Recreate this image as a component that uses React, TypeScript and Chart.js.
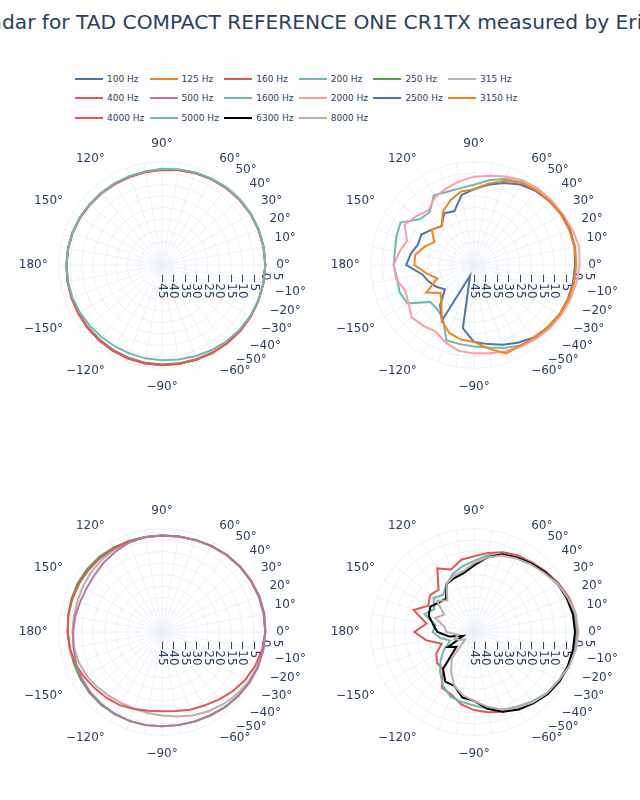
import React, { useEffect, useRef } from 'react';
import { Chart, registerables } from 'chart.js';

Chart.register(...registerables);

// Angles in degrees, counter-clockwise from 0 (front)
const ANGLES = [0, 10, 20, 30, 40, 50, 60, 70, 80, 90, 100, 110, 120, 130, 140, 150, 160, 170, 180,
  -170, -160, -150, -140, -130, -120, -110, -100, -90, -80, -70, -60, -50, -40, -30, -20, -10];

// SPL (dB, normalised) per angle
const HZ100 = [0, 0, -0.2, -0.4, -0.8, -1.2, -1.7, -2.3, -2.9, -3.4, -3.8, -4.0, -4.1, -4.0, -3.9, -3.7, -3.5, -3.4, -3.3,
  -3.2, -3.1, -3.0, -2.8, -2.6, -2.3, -2.0, -1.8, -1.7, -1.5, -1.3, -1.0, -0.8, -0.5, -0.3, -0.2, -0.1];
const HZ125 = [0, -0.1, -0.3, -0.5, -0.9, -1.4, -1.9, -2.5, -3.1, -3.6, -3.9, -4.1, -4.1, -4.0, -3.9, -3.7, -3.6, -3.5, -3.4,
  -3.3, -3.1, -2.9, -2.6, -2.3, -2.0, -1.7, -1.5, -1.4, -1.3, -1.1, -0.9, -0.7, -0.5, -0.3, -0.2, -0.1];
const HZ160 = [0, -0.1, -0.2, -0.4, -0.8, -1.3, -1.8, -2.4, -3.0, -3.5, -3.9, -4.1, -4.2, -4.1, -4.0, -3.8, -3.6, -3.5, -3.4,
  -3.2, -3.0, -2.8, -2.5, -2.2, -1.9, -1.6, -1.4, -1.3, -1.2, -1.0, -0.8, -0.6, -0.4, -0.3, -0.2, -0.1];
const HZ200 = [0, 0, -0.1, -0.3, -0.6, -1.0, -1.5, -2.1, -2.7, -3.1, -3.5, -3.7, -3.8, -3.8, -3.7, -3.6, -3.5, -3.4, -3.4,
  -3.4, -3.5, -3.7, -3.9, -4.0, -4.0, -3.9, -3.7, -3.5, -3.2, -2.7, -2.1, -1.5, -1.0, -0.6, -0.3, -0.1];

const HZ250 = [0, 0, 0, -0.3, -0.7, -1.2, -1.8, -2.3, -2.8, -3.0, -3.0, -2.8, -2.6, -2.4, -2.4, -2.6, -3.0, -3.5, -4.0,
  -4.2, -4.2, -4.0, -3.8, -3.7, -3.7, -3.7, -3.8, -3.9, -3.8, -3.5, -3.0, -2.3, -1.6, -1.0, -0.5, -0.2];
const HZ315 = [0, 0, -0.1, -0.4, -0.8, -1.3, -1.9, -2.4, -2.8, -3.0, -3.1, -3.2, -3.5, -4.0, -4.6, -5.2, -5.8, -6.0, -6.0,
  -6.1, -6.4, -7.0, -8.0, -8.8, -9.3, -9.5, -9.2, -8.6, -7.6, -6.3, -5.0, -3.8, -2.6, -1.6, -0.8, -0.3];
const HZ400 = [0, 0.3, 0.2, -0.2, -0.6, -1.1, -1.7, -2.3, -2.8, -3.0, -3.0, -3.0, -3.0, -3.0, -3.1, -3.2, -3.4, -3.6, -3.8,
  -4.2, -4.8, -5.8, -6.8, -7.5, -8.2, -9.3, -10.2, -10.5, -10.0, -9.0, -8.0, -6.5, -4.8, -3.2, -1.8, -0.7];
const HZ500 = [0, 0, 0, -0.3, -0.7, -1.2, -1.8, -2.3, -2.8, -3.0, -3.0, -3.5, -4.5, -5.5, -6.5, -7.0, -7.0, -6.6, -6.3,
  -5.8, -5.2, -4.6, -4.2, -4.0, -3.9, -3.8, -3.8, -3.9, -3.8, -3.5, -3.0, -2.3, -1.6, -1.0, -0.5, -0.2];

const HZ1600 = [-0.5, -0.2, -0.5, -1.0, -1.8, -2.5, -3.5, -5, -7.5, -10, -11, -11, -10, -15, -14, -8, -9, -10, -10,
  -11, -10.5, -11.5, -20, -20, -18, -10, -10, -9.5, -8.5, -6.5, -4.5, -3.5, -2.5, -1.8, -1.2, -0.8];
const HZ2000 = [1.0, 1.5, 0.5, -0.5, -1.0, -1.5, -2.5, -4, -5.5, -6.5, -8, -9.5, -11, -14, -12, -10, -14, -12, -10,
  -10.5, -13, -12, -9.5, -10.5, -11.5, -9, -7, -6.5, -6, -5, -4, -3, -2, -1.2, -0.5, 0.3];
const HZ2500 = [-1, -0.5, -0.5, -1, -2, -3, -4.5, -7, -9.5, -12, -14, -20, -19, -23, -21, -18.5, -19, -17, -15.5,
  -22, -24, -26, -28.5, -22, -17, -40, -17, -11.5, -10, -8, -6, -4, -3, -2, -1.5, -1.2];
const HZ3150 = [-0.5, -0.5, -0.8, -1.2, -1.8, -2.5, -3.5, -6, -9, -12, -12.5, -15, -18, -23, -21, -25, -22, -19, -19,
  -24, -28, -21, -26, -23, -17, -13.5, -12, -11.5, -8, -4, -4.5, -4, -3, -2, -1.2, -0.8];

const HZ4000 = [0, 0, -1, -2.5, -4, -5.5, -6.5, -8, -10, -12, -13, -16, -13, -21, -20, -22, -17, -24, -19,
  -24, -30, -26, -24, -24, -17, -16, -13, -11, -9.5, -8, -7, -5, -3.5, -2, -1, -0.5];
const HZ5000 = [-0.5, -0.8, -1.5, -3, -4.5, -6, -7.5, -9, -11, -14, -16, -18, -21, -24, -22, -25, -22, -28, -27,
  -30, -34, -30, -26, -22, -18, -15, -14, -13, -11, -9, -7.5, -5.5, -3.5, -2.5, -1.5, -1];
const HZ6300 = [-1, -1.2, -2, -3, -4.5, -6, -7.5, -9, -12, -16, -19, -20, -21, -26, -25, -23, -24, -27, -29,
  -34, -40, -32, -35, -24, -20, -20, -16, -15, -11, -8, -6, -4.5, -3, -2, -1.5, -1.2];
const HZ8000 = [0.5, 0, -1.5, -3, -5, -6.5, -8, -9.5, -12, -15, -18, -19, -21, -27, -24, -30, -27, -32, -33,
  -38, -36, -38, -40, -30, -25, -20, -17, -15, -12, -9, -7, -5, -3.5, -2.5, -1, 0];

const R_MIN = -45;
const R_MAX = 0;
const R_STEP = 5;
const EXTRA_TICK = 5;

const TEXT = '#2a3f5f';
const GRID = '#EBF0F8';
const FONT = '"DejaVu Sans", Verdana, sans-serif';

const SERIES = [
  { name: '100 Hz', values: HZ100, color: '#4C78A8', group: 0 },
  { name: '125 Hz', values: HZ125, color: '#F58518', group: 0 },
  { name: '160 Hz', values: HZ160, color: '#E45756', group: 0 },
  { name: '200 Hz', values: HZ200, color: '#72B7B2', group: 0 },
  { name: '250 Hz', values: HZ250, color: '#54A24B', group: 2 },
  { name: '315 Hz', values: HZ315, color: '#BAB0AC', group: 2 },
  { name: '400 Hz', values: HZ400, color: '#E45756', group: 2 },
  { name: '500 Hz', values: HZ500, color: '#B279A2', group: 2 },
  { name: '1600 Hz', values: HZ1600, color: '#72B7B2', group: 1 },
  { name: '2000 Hz', values: HZ2000, color: '#FF9DA6', group: 1 },
  { name: '2500 Hz', values: HZ2500, color: '#4C78A8', group: 1 },
  { name: '3150 Hz', values: HZ3150, color: '#F58518', group: 1 },
  { name: '4000 Hz', values: HZ4000, color: '#E45756', group: 3 },
  { name: '5000 Hz', values: HZ5000, color: '#72B7B2', group: 3 },
  { name: '6300 Hz', values: HZ6300, color: '#000000', group: 3 },
  { name: '8000 Hz', values: HZ8000, color: '#BAB0AC', group: 3 },
];

const TITLE = 'Radar for TAD COMPACT REFERENCE ONE CR1TX measured by ErinsAudioCorner';

// subplot canvases: [left, top]
const SIZE = 288;
const PANELS = [
  [19, 121],
  [331, 121],
  [19, 488],
  [331, 488],
];

// Chart.js radar runs clockwise from startAngle; reorder from 0 deg going clockwise
const ORDER = [0, ...Array.from({ length: ANGLES.length - 1 }, (_, k) => ANGLES.length - 1 - k)];

const fmt = (v: number) => (v < 0 ? '\u2212' + Math.abs(v) : String(v));

let measureCtx: CanvasRenderingContext2D | null = null;
function padTick(v: number) {
  const txt = fmt(v);
  if (!measureCtx) measureCtx = document.createElement('canvas').getContext('2d');
  if (!measureCtx) return txt;
  measureCtx.font = '12px ' + FONT;
  const w = measureCtx.measureText(txt).width;
  const s = measureCtx.measureText('\u00A0').width || 4;
  const n = Math.max(0, Math.round((w + 2 * 8) / s));
  return '\u00A0'.repeat(n) + txt;
}

function Polar({ group, left, top }: { group: number; left: number; top: number }) {
  const ref = useRef<HTMLCanvasElement | null>(null);
  useEffect(() => {
    if (!ref.current) return;
    const items = SERIES.filter((s) => s.group === group);
    const chart = new Chart(ref.current, {
      type: 'radar',
      data: {
        labels: ORDER.map((i) => ANGLES[i]),
        datasets: items.map((s, i) => ({
          label: s.name,
          data: ORDER.map((k) => s.values[k]),
          borderColor: s.color,
          backgroundColor: s.color,
          borderWidth: 2,
          pointRadius: 0,
          pointHoverRadius: 0,
          fill: false,
          tension: 0,
          order: -i,
        })),
      },
      options: {
        responsive: false,
        animation: false,
        devicePixelRatio: 1,
        layout: { padding: 0 },
        plugins: { legend: { display: false }, tooltip: { enabled: false }, title: { display: false } },
        scales: {
          r: {
            min: R_MIN,
            max: R_MAX,
            startAngle: 90,
            afterBuildTicks: (scale: any) => {
              scale.ticks.push({ value: EXTRA_TICK });
            },
            ticks: {
              stepSize: R_STEP,
              showLabelBackdrop: false,
              color: TEXT,
              font: { family: FONT, size: 12 },
              callback: (v: any) => padTick(Number(v)),
            },
            grid: {
              circular: true,
              color: (c: any) => (c.tick && c.tick.value > R_MAX ? 'rgba(0,0,0,0)' : GRID),
              lineWidth: 1,
            },
            angleLines: { color: GRID, lineWidth: 1 },
            pointLabels: {
              color: TEXT,
              font: { family: FONT, size: 12 },
              padding: 3,
              callback: (label: any) => {
                const a = Number(label);
                if (Math.abs(a) <= 60 || a % 30 === 0) return fmt(a) + '\u00B0';
                return '';
              },
            },
          },
        },
      },
    } as any);
    return () => chart.destroy();
  }, [group]);
  return (
    <canvas
      ref={ref}
      width={SIZE}
      height={SIZE}
      style={{ position: 'absolute', left, top, width: SIZE, height: SIZE }}
    />
  );
}

function Legend() {
  return (
    <>
      {SERIES.map((s, i) => {
        const col = i % 6;
        const row = Math.floor(i / 6);
        const x = 75 + col * 74.6;
        const y = 79 + row * 19.3;
        return (
          <div key={s.name} style={{ position: 'absolute', left: x, top: y - 7, height: 14, display: 'flex', alignItems: 'center' }}>
            <span style={{ display: 'inline-block', width: 28, height: 2, background: s.color }} />
            <span style={{ marginLeft: 4, font: '9px ' + FONT, color: TEXT, whiteSpace: 'nowrap' }}>{s.name}</span>
          </div>
        );
      })}
    </>
  );
}

export default function App() {
  return (
    <div style={{ position: 'fixed', left: 0, top: 0, width: 640, height: 800, background: '#fff', overflow: 'hidden' }}>
      <div style={{ position: 'absolute', left: -24, top: 10, font: '20.2px ' + FONT, color: TEXT, whiteSpace: 'nowrap', lineHeight: '24px' }}>
        {TITLE}
      </div>
      <Legend />
      {PANELS.map((p, g) => (
        <Polar key={g} group={g} left={p[0]} top={p[1]} />
      ))}
    </div>
  );
}
